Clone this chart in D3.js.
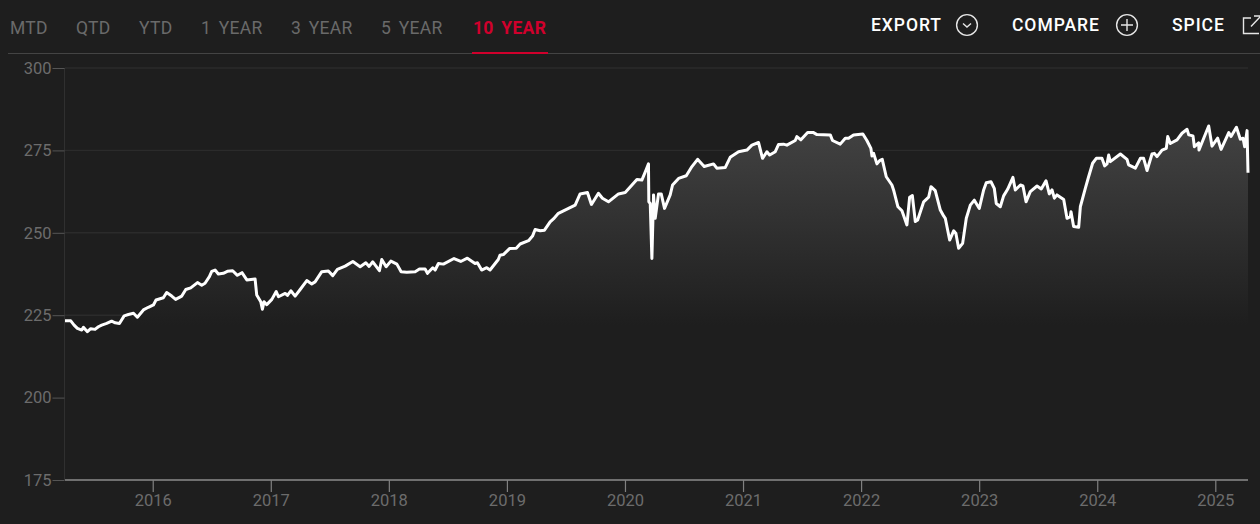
<!DOCTYPE html>
<html>
<head>
<meta charset="utf-8">
<script src="https://cdn.jsdelivr.net/npm/d3@7"></script>
<style>
  html, body { margin: 0; padding: 0; background: #1e1e1e; overflow: hidden; }
  svg { display: block; font-family: Roboto, sans-serif; }
  .nav { font-size: 17.5px; fill: #6a6a6a; letter-spacing: 0.3px; word-spacing: 3px; }
  .nav.active { fill: #d0002c; font-weight: 700; }
  .action { font-size: 17.5px; fill: #fff; font-weight: 500; letter-spacing: 0.95px; }
  .icon { fill: none; stroke: #e6e6e6; stroke-width: 1.4; }
  .axis text { font-size: 16.5px; fill: #6c6c6c; font-family: Roboto, sans-serif; }
</style>
</head>
<body>
<svg id="chart"></svg>
<script>
const navLabels = ["MTD", "QTD", "YTD", "1 YEAR", "3 YEAR", "5 YEAR", "10 YEAR"];
const actionLabels = ["EXPORT", "COMPARE", "SPICE"];
const yTicks = [175, 200, 225, 250, 275, 300];
const xTicks = [2016, 2017, 2018, 2019, 2020, 2021, 2022, 2023, 2024, 2025];

const dates = [
  2015.257, 2015.306, 2015.334, 2015.362, 2015.399, 2015.413, 2015.447, 2015.475, 2015.511, 2015.540,
  2015.568, 2015.610, 2015.652, 2015.682, 2015.718, 2015.758, 2015.794, 2015.837, 2015.870, 2015.921, 2015.963,
  2016.006, 2016.028, 2016.090, 2016.118, 2016.161, 2016.194, 2016.246, 2016.280, 2016.322, 2016.379,
  2016.415, 2016.443, 2016.480, 2016.500, 2016.528, 2016.556, 2016.598, 2016.632, 2016.677, 2016.717,
  2016.756, 2016.797, 2016.867, 2016.881, 2016.915, 2016.929, 2016.943, 2016.966,
  2017.009, 2017.046, 2017.065, 2017.122, 2017.141, 2017.170, 2017.206, 2017.249, 2017.305, 2017.347, 2017.375,
  2017.432, 2017.488, 2017.525, 2017.564, 2017.630, 2017.695, 2017.757, 2017.805, 2017.833, 2017.864, 2017.920, 2017.940, 2017.977,
  2018.017, 2018.068, 2018.104, 2018.152, 2018.223, 2018.259, 2018.307, 2018.327, 2018.372, 2018.392, 2018.420, 2018.462,
  2018.552, 2018.609, 2018.665, 2018.730, 2018.750, 2018.786, 2018.829, 2018.857, 2018.927, 2018.941, 2018.970,
  2019.022, 2019.079, 2019.112, 2019.183, 2019.217, 2019.239, 2019.282, 2019.318, 2019.366, 2019.394,
  2019.436, 2019.578, 2019.620, 2019.682, 2019.716, 2019.775, 2019.809, 2019.860, 2019.945,
  2020.002, 2020.101, 2020.143, 2020.179, 2020.199, 2020.202, 2020.214, 2020.228, 2020.242, 2020.256, 2020.284,
  2020.307, 2020.335, 2020.383, 2020.403, 2020.454, 2020.519, 2020.567, 2020.615, 2020.671, 2020.750, 2020.778, 2020.849, 2020.891, 2020.962,
  2021.033, 2021.075, 2021.131, 2021.165, 2021.202, 2021.225, 2021.273, 2021.301, 2021.343, 2021.371, 2021.442,
  2021.456, 2021.490, 2021.547, 2021.597, 2021.626, 2021.739, 2021.758, 2021.823, 2021.866, 2021.894, 2021.936,
  2022.015, 2022.049, 2022.083, 2022.092, 2022.106, 2022.134, 2022.157, 2022.179, 2022.213, 2022.261, 2022.275, 2022.312, 2022.346, 2022.388,
  2022.411, 2022.434, 2022.459, 2022.479, 2022.530, 2022.572, 2022.592, 2022.628, 2022.671, 2022.699, 2022.713,
  2022.750, 2022.784, 2022.803, 2022.826, 2022.860, 2022.891, 2022.925, 2022.959,
  2023.001, 2023.038, 2023.060, 2023.100, 2023.128, 2023.145, 2023.179, 2023.207, 2023.241, 2023.286, 2023.306,
  2023.349, 2023.371, 2023.397, 2023.433, 2023.490, 2023.526, 2023.566, 2023.594, 2023.617, 2023.637, 2023.659,
  2023.716, 2023.744, 2023.772, 2023.778, 2023.800, 2023.843, 2023.857, 2023.899, 2023.927, 2023.961, 2023.992,
  2024.040, 2024.063, 2024.083, 2024.097, 2024.111, 2024.196, 2024.252, 2024.266, 2024.323, 2024.365, 2024.393,
  2024.422, 2024.464, 2024.484, 2024.506, 2024.549, 2024.585, 2024.597, 2024.619, 2024.676, 2024.718, 2024.761,
  2024.775, 2024.811, 2024.823, 2024.859, 2024.862, 2024.902, 2024.944, 2024.972,
  2025.020, 2025.049, 2025.114, 2025.133, 2025.179, 2025.212, 2025.235, 2025.249, 2025.269, 2025.277
];

const levels = [
  223.3, 223.3, 222.0, 221.0, 220.5, 221.3, 220.0, 220.9, 220.7, 221.5,
  222.0, 222.5, 223.2, 222.7, 222.5, 224.8, 225.2, 225.6, 224.4, 226.6, 227.4,
  228.1, 229.6, 230.3, 231.9, 230.8, 229.8, 230.8, 232.8, 233.3, 234.9,
  234.1, 234.7, 236.7, 238.3, 238.7, 237.5, 237.7, 238.3, 238.5, 237.1,
  237.9, 235.7, 236.0, 231.1, 229.1, 226.8, 229.1, 228.2,
  229.8, 232.2, 230.6, 231.6, 231.0, 232.4, 230.8, 232.8, 235.5, 234.5, 235.1,
  238.2, 238.4, 237.0, 238.9, 239.9, 241.3, 239.7, 240.9, 239.8, 241.2, 238.5, 241.9, 239.7,
  241.4, 240.5, 238.2, 238.0, 238.2, 239.0, 239.0, 237.7, 239.4, 238.7, 240.7, 240.5,
  242.2, 241.3, 242.3, 240.7, 240.9, 238.7, 239.4, 238.7, 241.9, 243.2, 243.4,
  245.2, 245.3, 246.6, 247.6, 249.0, 251.0, 250.6, 250.8, 253.3, 254.2,
  255.9, 258.4, 261.8, 262.2, 258.6, 262.0, 260.5, 259.4, 261.8,
  262.2, 266.2, 266.0, 269.1, 270.9, 259.4, 258.9, 242.2, 261.5, 254.4, 261.8,
  261.8, 257.4, 261.5, 264.5, 266.5, 267.3, 270.1, 272.3, 270.1, 270.9, 269.6, 269.8, 272.9, 274.6,
  275.1, 276.6, 277.4, 272.6, 274.6, 273.6, 274.6, 276.8, 276.9, 276.6, 278.0,
  279.2, 278.2, 280.4, 280.4, 279.8, 279.7, 278.0, 276.9, 278.7, 278.7, 279.7,
  280.0, 278.0, 275.6, 273.3, 274.1, 270.9, 271.9, 272.3, 267.0, 264.5, 263.0, 257.9, 256.7, 252.4,
  260.8, 261.3, 253.4, 253.9, 259.4, 260.8, 264.0, 262.8, 256.9, 255.1, 254.4,
  247.8, 250.6, 249.8, 245.3, 246.8, 254.4, 258.4, 259.9,
  257.4, 263.0, 265.2, 265.5, 263.5, 258.9, 257.9, 261.2, 263.2, 266.8, 263.0,
  264.5, 264.2, 259.4, 262.5, 264.2, 263.3, 265.8, 261.8, 263.0, 260.5, 261.5,
  260.1, 254.4, 254.9, 256.4, 251.9, 251.7, 257.9, 263.5, 267.0, 271.1, 272.6,
  272.6, 270.3, 270.9, 273.6, 271.6, 273.9, 272.3, 270.6, 269.6, 272.6, 272.6,
  268.9, 273.9, 274.1, 273.1, 275.1, 275.6, 279.2, 277.1, 278.2, 280.2, 281.4,
  279.7, 279.4, 276.1, 277.3, 275.1, 278.7, 282.4, 276.3,
  278.7, 275.3, 280.4, 279.2, 282.0, 278.4, 278.7, 276.1, 281.0, 268.2
];

const width = 1260;
const height = 524;
const margin = { top: 68, right: 12, bottom: 44, left: 65 };

const svg = d3.select("#chart").attr("width", width).attr("height", height);

// tabs
const navX = [10, 76, 139, 201, 291, 381, 473];
svg.selectAll(".nav")
  .data(navLabels)
  .enter()
  .append("text")
  .attr("class", (d, i) => i === navLabels.length - 1 ? "nav active" : "nav")
  .attr("x", (d, i) => navX[i])
  .attr("y", 34)
  .text(d => d);

svg.append("line")
  .attr("x1", 8).attr("x2", width)
  .attr("y1", 53.5).attr("y2", 53.5)
  .attr("stroke", "#444");

svg.append("line")
  .attr("x1", 472).attr("x2", 548)
  .attr("y1", 53).attr("y2", 53)
  .attr("stroke", "#d0002c")
  .attr("stroke-width", 2);

// right side actions
const actionX = [871, 1012, 1172];
svg.selectAll(".action")
  .data(actionLabels)
  .enter()
  .append("text")
  .attr("class", "action")
  .attr("x", (d, i) => actionX[i])
  .attr("y", 31)
  .text(d => d);

svg.append("circle").attr("class", "icon").attr("cx", 967).attr("cy", 25).attr("r", 10.4);
svg.append("path").attr("class", "icon").attr("d", "M963 23.5l4 3.5l4-3.5");
svg.append("circle").attr("class", "icon").attr("cx", 1127).attr("cy", 25).attr("r", 10.4);
svg.append("path").attr("class", "icon").attr("d", "M1127 19v12M1121 25h12");
svg.append("path").attr("class", "icon")
  .attr("stroke-width", 1.6)
  .attr("d", "M1251 18h-7.5v15.5h15.5M1251 26.5l9-9.5M1254 16h6");

// scales
const x = d3.scaleLinear()
  .domain([dates[0], dates[dates.length - 1]])
  .range([margin.left, width - margin.right]);

const y = d3.scaleLinear()
  .domain([175, 300])
  .range([height - margin.bottom, margin.top]);

const points = d3.zip(dates, levels);

// gridlines
svg.append("g")
  .selectAll("line")
  .data(yTicks.filter(d => d !== 175))
  .enter()
  .append("line")
  .attr("x1", margin.left)
  .attr("x2", width - margin.right)
  .attr("y1", d => y(d))
  .attr("y2", d => y(d))
  .attr("stroke", "#2b2b2b")
  .attr("stroke-width", 1.4);

// area under the line
const defs = svg.append("defs");
const grad = defs.append("linearGradient")
  .attr("id", "fade")
  .attr("gradientUnits", "userSpaceOnUse")
  .attr("x1", 0).attr("x2", 0)
  .attr("y1", y(282)).attr("y2", y(222));
grad.append("stop").attr("offset", "0%").attr("stop-color", "#424242");
grad.append("stop").attr("offset", "100%").attr("stop-color", "#1e1e1e");

const area = d3.area()
  .x(d => x(d[0]))
  .y0(y(175))
  .y1(d => y(d[1]));

svg.append("path")
  .datum(points)
  .attr("fill", "url(#fade)")
  .attr("d", area);

// axes
const yAxis = d3.axisLeft(y).tickValues(yTicks).tickSize(12).tickPadding(1);
const yG = svg.append("g")
  .attr("class", "axis")
  .attr("transform", `translate(${margin.left - 0.5},0)`)
  .call(yAxis);
yG.select(".domain").attr("stroke", "#303030").attr("d", `M0,${y(300)}V${y(175)}`);
yG.selectAll(".tick line").attr("stroke", "#555");

const xAxis = d3.axisBottom(x).tickValues(xTicks).tickFormat(d3.format("d")).tickSize(12).tickPadding(2);
const xG = svg.append("g")
  .attr("class", "axis")
  .attr("transform", `translate(0,${y(175)})`)
  .call(xAxis);
xG.select(".domain").attr("stroke", "#8c8c8c").attr("stroke-width", 1.4)
  .attr("d", `M${margin.left},0H${width - margin.right}`);
xG.selectAll(".tick line").attr("stroke", "#808080").attr("stroke-width", 1.2);

// line
const line = d3.line()
  .x(d => x(d[0]))
  .y(d => y(d[1]));

svg.append("path")
  .datum(points)
  .attr("fill", "none")
  .attr("stroke", "#fff")
  .attr("stroke-width", 3)
  .attr("stroke-linejoin", "round")
  .attr("d", line);
</script>
</body>
</html>
